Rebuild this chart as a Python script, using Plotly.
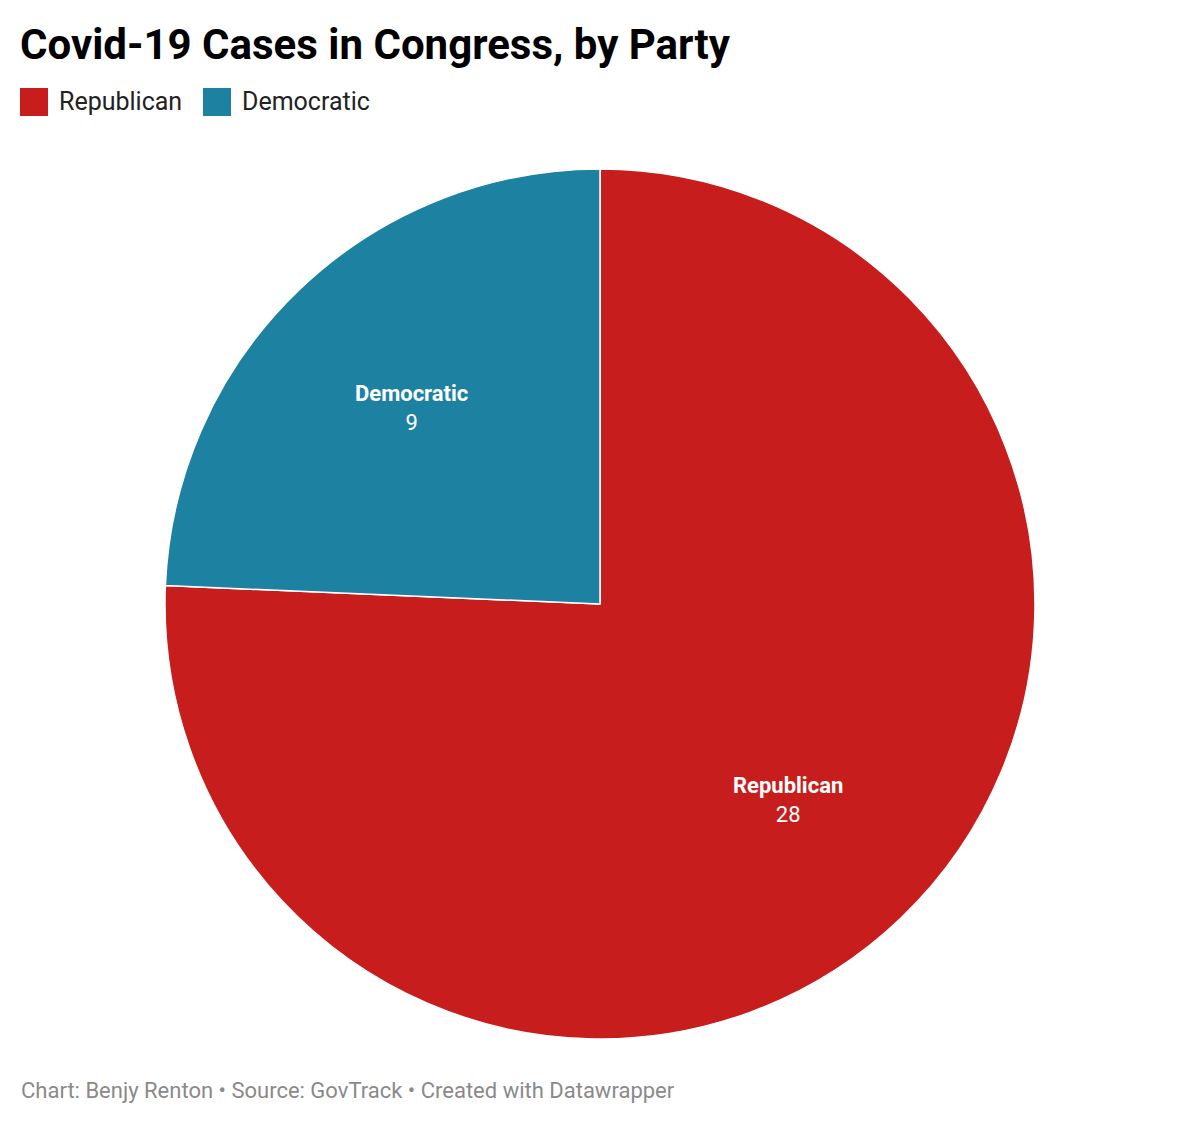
import math
import plotly.graph_objects as go

labels = ["Republican", "Democratic"]
values = [28, 9]
colors = ["#c71e1d", "#1d81a2"]

title_text = "Covid-19 Cases in Congress, by Party"
footer_text = "Chart: Benjy Renton • Source: GovTrack • Created with Datawrapper"

W, H = 1200, 1123
OFF = 8  # page body margin offset


def px(x):
    return (x - OFF) / W


def py(y):
    return 1 - (y - OFF) / H


CX, CY, R = 600, 604, 435

fig = go.Figure(go.Pie(
    labels=labels,
    values=values,
    marker=dict(colors=colors, line=dict(color="white", width=1.5)),
    sort=False,
    direction="clockwise",
    rotation=0,
    textinfo="none",
    hoverinfo="label+value",
    showlegend=False,
    domain=dict(x=[px(CX - R), px(CX + R)], y=[py(CY + R), py(CY - R)]),
))

shapes = []
annotations = []
# Title
annotations.append(dict(
    text=f"<b>{title_text}</b>", x=px(18), y=py(44), xref="paper", yref="paper",
    xanchor="left", yanchor="middle", showarrow=False,
    font=dict(family="Roboto", size=42, color="#000000"),
))
# Legend (custom)
leg_x = [20, 203]
for i, (lab, col) in enumerate(zip(labels, colors)):
    x0 = leg_x[i]
    shapes.append(dict(type="rect", xref="paper", yref="paper",
                       x0=px(x0), x1=px(x0 + 28), y0=py(116), y1=py(88),
                       fillcolor=col, line=dict(width=0)))
    annotations.append(dict(
        text=lab, x=px(x0 + 37), y=py(102), xref="paper", yref="paper",
        xanchor="left", yanchor="middle", showarrow=False,
        font=dict(family="Roboto", size=25, color="#222222"),
    ))
# Slice labels, positioned along each slice's mid-angle
total = sum(values)
cum = 0
for lab, val in zip(labels, values):
    mid = (cum + val / 2) / total * 2 * math.pi
    cum += val
    lx = CX + 0.625 * R * math.sin(mid)
    ly = CY - 0.625 * R * math.cos(mid)
    annotations.append(dict(
        text=f"<b>{lab}</b><br>{val}", x=px(lx), y=py(ly), xref="paper", yref="paper",
        xanchor="center", yanchor="middle", showarrow=False, align="center",
        font=dict(family="Roboto", size=22, color="white"),
    ))
# Footer
annotations.append(dict(
    text=footer_text, x=px(19), y=py(1090), xref="paper", yref="paper",
    xanchor="left", yanchor="middle", showarrow=False,
    font=dict(family="Roboto", size=22, color="#8a8a8a"),
))

fig.update_layout(
    width=W, height=H,
    margin=dict(l=0, r=0, t=0, b=0),
    paper_bgcolor="white", plot_bgcolor="white",
    shapes=shapes, annotations=annotations,
)

fig.write_html("out.html")
